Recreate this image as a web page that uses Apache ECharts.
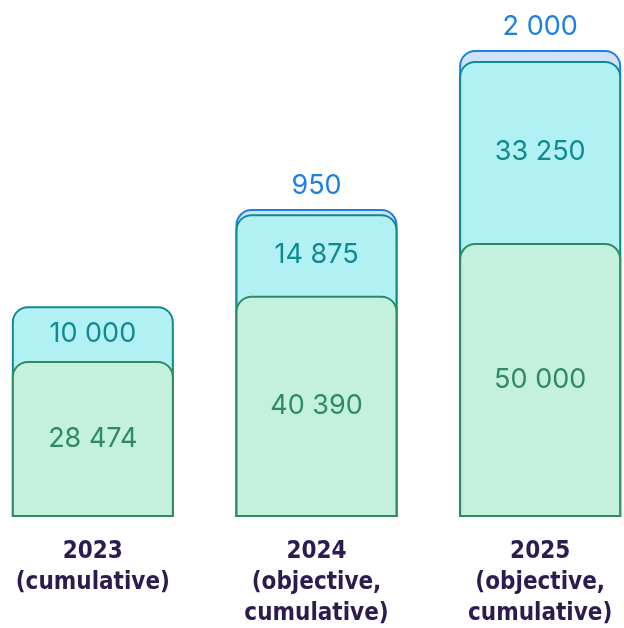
<!DOCTYPE html>
<html>
<head>
<meta charset="utf-8">
<script src="https://cdn.jsdelivr.net/npm/echarts@6/dist/echarts.min.js"></script>
<style>html,body{margin:0;padding:0;background:#fff}#c{width:624px;height:628px}</style>
</head>
<body>
<div id="c"></div>
<script>
const categories = ['2023\n(cumulative)', '2024\n(objective,\ncumulative)', '2025\n(objective,\ncumulative)'];
const baseValues = [28474, 40390, 50000];
const addedValues = [10000, 14875, 33250];
const extraValues = [0, 950, 2000];

const cumCyan = baseValues.map((v, i) => v + addedValues[i]);
const cumBlue = cumCyan.map((v, i) => v + extraValues[i]);
const fmt = v => String(v).replace(/\B(?=(\d{3})+(?!\d))/g, ' ');

const chart = echarts.init(document.getElementById('c'));
const W = 162, R = [15, 15, 0, 0];
const visual = (name, data, fill, border) => ({
  name, type: 'bar', data, barWidth: W, barGap: '-100%', silent: true,
  itemStyle: { color: fill, borderColor: border, borderWidth: 2, borderRadius: R }
});
const lbl = (name, data, color, pos, dist) => ({
  name, type: 'bar', stack: 'lbl', data, barWidth: W, barGap: '-100%', silent: true, z: 10,
  itemStyle: { color: 'transparent', borderWidth: 0 },
  label: {
    show: true, position: pos, distance: dist, color,
    fontFamily: 'Inter', fontSize: 27, fontWeight: 400,
    formatter: p => p.value ? fmt(p.value) : ''
  }
});
chart.setOption({
  animation: false,
  grid: { left: -19, right: -28, top: 50, bottom: 111, containLabel: false, outerBoundsMode: 'none' },
  xAxis: {
    type: 'category', data: categories,
    axisLine: { show: false }, axisTick: { show: false },
    axisLabel: {
      margin: 19, color: '#2d1a4f', fontFamily: '"DejaVu Sans Condensed", "DejaVu Sans"', fontWeight: 'bold',
      fontSize: 24, lineHeight: 31, interval: 0
    }
  },
  yAxis: { type: 'value', min: 0, max: 85250, show: false, splitLine: { show: false } },
  series: [
    visual('extra', cumBlue.map((v, i) => extraValues[i] ? v : null), '#cfe4fb', '#1b7fe6'),
    visual('added', cumCyan, '#b1f1f4', '#0e8a90'),
    visual('base', baseValues, '#c3f1dd', '#2f8a63'),
    lbl('baseL', baseValues, '#2f8a63', 'inside', 0),
    lbl('addedL', addedValues, '#0e8a90', 'inside', 0),
    lbl('extraL', extraValues, '#1b7fe6', 'top', 10)
  ]
});
</script>
</body>
</html>
